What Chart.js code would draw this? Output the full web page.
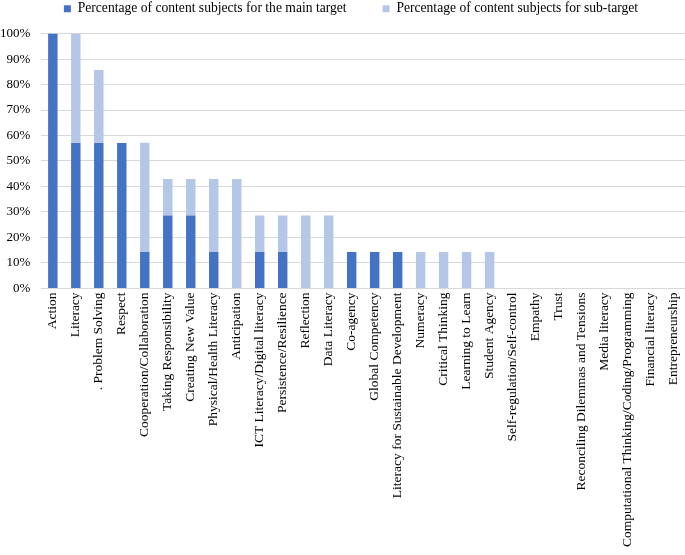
<!DOCTYPE html>
<html>
<head>
<meta charset="utf-8">
<script src="https://cdn.jsdelivr.net/npm/chart.js@4"></script>
<style>
  html, body { margin: 0; padding: 0; background: #fff; }
  #wrap { width: 685px; height: 555px; }
</style>
</head>
<body>
<div id="wrap"><canvas id="targetChart"></canvas></div>
<script>
/* competency bar chart
---------------------------- */

var competencies = [
  "Action", "Literacy", ". Problem Solving", "Respect", "Cooperation/Collaboration",
  "Taking Responsibility", "Creating New Value", "Physical/Health Literacy", "Anticipation",
  "ICT Literacy/Digital literacy", "Persistence/Resilience", "Reflection", "Data Literacy",
  "Co-agency", "Global Competency", "Literacy for Sustainable Development", "Numeracy",
  "Critical Thinking", "Learning to Learn", "Student Agency", "Self-regulation/Self-control",
  "Empathy", "Trust", "Reconciling Dilemmas and Tensions", "Media literacy",
  "Computational Thinking/Coding/Programming", "Financial literacy", "Entrepreneurship"
];

// % of content subjects (7 subjects -> steps of 14.3%)
var mainTarget = [100, 57.1, 57.1, 57.1, 14.3, 28.6, 28.6, 14.3, 0, 14.3, 14.3, 0, 0,
                  14.3, 14.3, 14.3, 0, 0, 0, 0, 0, 0, 0, 0, 0, 0, 0, 0];
var subTarget  = [0, 42.9, 28.6, 0, 42.9, 14.3, 14.3, 28.6, 42.9, 14.3, 14.3, 28.6, 28.6,
                  0, 0, 0, 14.3, 14.3, 14.3, 14.3, 0, 0, 0, 0, 0, 0, 0, 0];

var yTicks = [0, 10, 20, 30, 40, 50, 60, 70, 80, 90, 100];

var serif = "'Liberation Serif', 'Times New Roman', serif";
Chart.defaults.font.family = serif;
Chart.defaults.color = "#000";

// a bit more room between legend and plot, legend nudged right
var legendGap = {
  id: 'legendGap',
  beforeLayout: function(chart) {
    var lg = chart.legend;
    if (lg && !lg._gapPatched) {
      var fitOrig = lg.fit;
      lg.fit = function() {
        fitOrig.apply(this, arguments);
        this.height += 8;
      };
      lg._gapPatched = true;
    }
  },
  afterLayout: function(chart) {
    if (chart.legend) {
      chart.legend.left += 14;
      chart.legend.right += 14;
    }
  }
};

var ctx = document.getElementById("targetChart");
var targetChart = new Chart(ctx, {
  type: 'bar',
  data: {
    labels: competencies,
    datasets: [{
        label: "Percentage of content subjects for the main target",
        data: mainTarget,
        backgroundColor: "#4472C4"
      }, {
        label: "Percentage of content subjects for sub-target",
        data: subTarget,
        backgroundColor: "#B4C7E7"
      }]
  },
  plugins: [legendGap],
  options: {
    responsive: true,
    maintainAspectRatio: false,
    animation: false,
    datasets: { bar: { categoryPercentage: 1, barPercentage: 0.41 } },
    //legend sits tight against the top edge
    layout: { padding: { left: -11, right: 0, top: -34, bottom: 4 } },
    plugins: {
      tooltip: { enabled: false },
      legend: {
        position: 'top',
        labels: {
          boxWidth: 7,
          boxHeight: 7,
          padding: 36,
          font: { size: 13.6, family: serif }
        }
      }
    },
    scales: {
      x: {
        stacked: true,
        grid: { display: false, drawTicks: false, tickLength: 0 },
        border: { color: "#d9d9d9" },
        // plot runs all the way to the right edge
        afterFit: function(s) { s.paddingRight = 0; },
        ticks: {
          autoSkip: false,
          minRotation: 90,
          maxRotation: 90,
          padding: 4,
          font: { size: 13.5, family: serif }
        }
      },
      y: {
        stacked: true,
        min: 0,
        max: 100,
        afterBuildTicks: function(axis) {
          axis.ticks = yTicks.map(function(v) { return { value: v }; });
        },
        grid: { color: "#d9d9d9", drawTicks: false },
        border: { display: false },
        ticks: {
          padding: 11,
          font: { size: 13, family: serif },
          callback: function(v) { return v + "%"; }
        }
      }
    }
  }
});
</script>
</body>
</html>
